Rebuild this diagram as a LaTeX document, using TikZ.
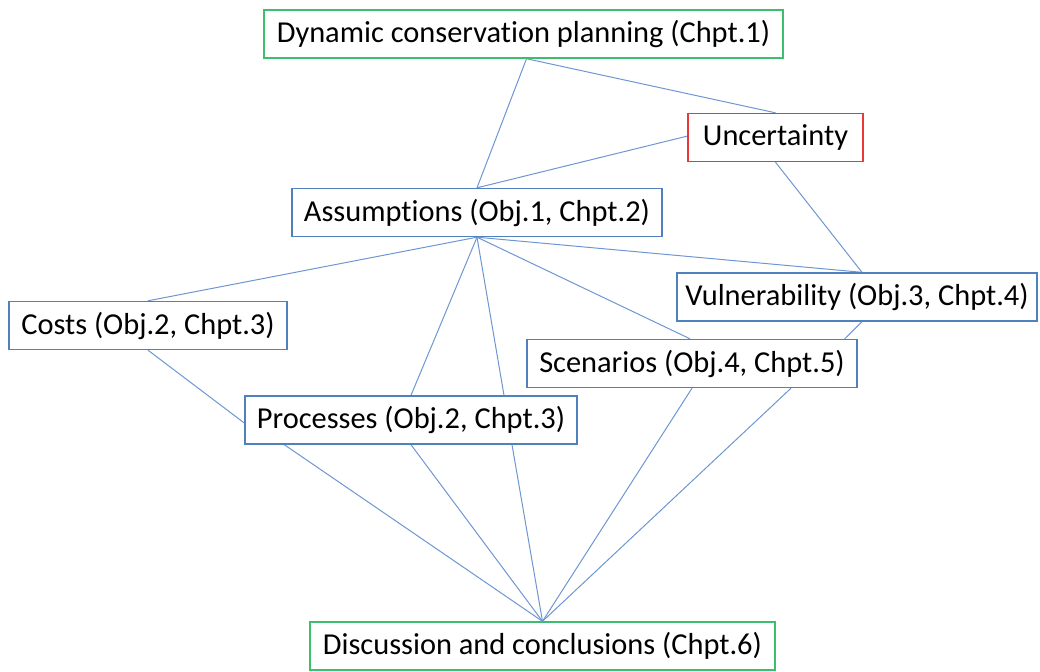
\documentclass[tikz,border=0pt]{standalone}
\usepackage{fontspec}
\setmainfont[Ligatures=NoCommon]{Carlito}
\usetikzlibrary{backgrounds}
\definecolor{boxblue}{RGB}{79,129,189}
\definecolor{boxgreen}{RGB}{60,190,110}
\definecolor{boxred}{RGB}{235,55,55}
\definecolor{linkblue}{RGB}{110,150,210}
\begin{document}
\begin{tikzpicture}[
  x=0.5pt, y=-0.5pt,
  every node/.style={draw=boxblue, line width=0.7pt, fill=white, align=center, inner sep=0pt,
    minimum height=24pt, font=\fontsize{15.2pt}{17pt}\selectfont},
  link/.style={draw=linkblue, line width=0.5pt}
]
\useasboundingbox (0,0) rectangle (1040,671);
\node (dcp) [draw=boxgreen, minimum width=259.5pt] at (523.5,34) {Dynamic conservation planning (Chpt.1)};
\node (unc) [draw=boxred, minimum width=87.5pt] at (775.5,137.5) {Uncertainty};
\node (ass) [minimum width=185pt] at (477,212.5) {Assumptions (Obj.1, Chpt.2)};
\node (vul) [minimum width=180pt] at (857,297) {Vulnerability (Obj.3, Chpt.4)};
\node (cost) [minimum width=139pt] at (148,325.5) {Costs (Obj.2, Chpt.3)};
\node (scen) [minimum width=165pt] at (692,363.5) {Scenarios (Obj.4, Chpt.5)};
\node (proc) [minimum width=166pt] at (411,420) {Processes (Obj.2, Chpt.3)};
\node (disc) [draw=boxgreen, minimum width=232.5pt] at (542.5,646) {Discussion and conclusions (Chpt.6)};
\begin{scope}[on background layer]
% top part
\draw[link] ([xshift=1.5pt]dcp.south) -- (unc.north);
\draw[link] ([xshift=1.5pt]dcp.south) -- (ass.north);
\draw[link] ([yshift=0.7pt]unc.west) -- (ass.north);
\draw[link] (unc.south) -- ([xshift=2.5pt]vul.north);
% from assumptions
\draw[link] (ass.south) -- ([xshift=2.5pt]vul.north);
\draw[link] (ass.south) -- (cost.north);
\draw[link] (ass.south) -- ([xshift=-1pt]scen.north);
\draw[link] (ass.south) -- (proc.north);
\draw[link] (ass.south) -- ([xshift=46.5pt]proc.north);
\draw[link] ([xshift=2.5pt]vul.south) -- ([xshift=-6.5pt]scen.north east);
\draw[link] (cost.south) -- ([yshift=-1.5pt]proc.west);
% into discussion
\draw[link] ([xshift=20pt]proc.south west) -- (disc.north);
\draw[link] (proc.south) -- (disc.north);
\draw[link] ([xshift=50.5pt]proc.south) -- (disc.north);
\draw[link] (scen.south) -- (disc.north);
\draw[link] ([xshift=49.5pt]scen.south) -- (disc.north);
\end{scope}
\end{tikzpicture}
\end{document}
